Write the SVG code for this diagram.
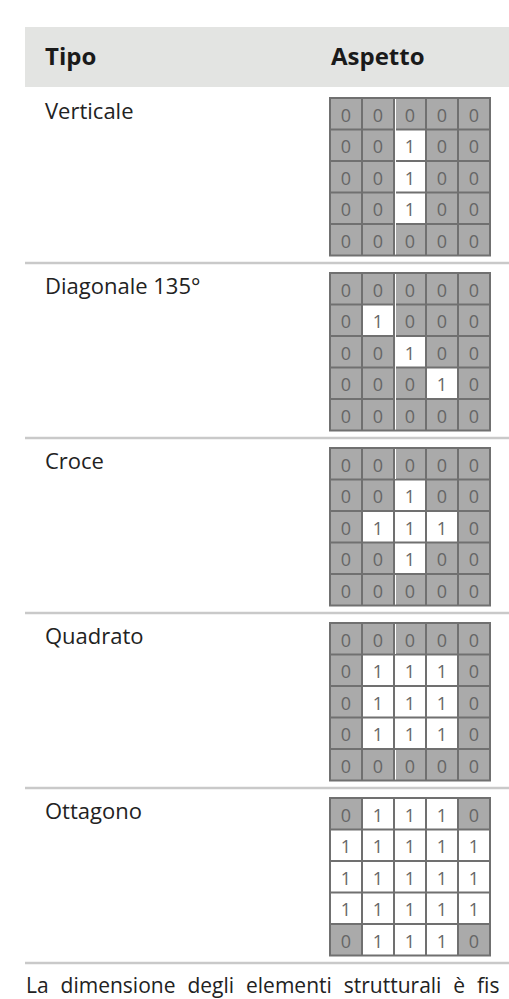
<svg xmlns="http://www.w3.org/2000/svg" xmlns:xlink="http://www.w3.org/1999/xlink" width="509" height="999" viewBox="0 0 509 999">
<style>
.hd{font-family:"Open Sans","Noto Sans",sans-serif;font-weight:bold;font-size:24px;fill:#1a1a1a}
.lb{font-family:"Open Sans","Noto Sans",sans-serif;font-size:22px;fill:#222}
.ft{font-family:"Open Sans","Noto Sans",sans-serif;font-size:21px;fill:#222;word-spacing:6.5px}
.d{font-family:"Open Sans","Noto Sans",sans-serif;font-size:18px;fill:#666;text-anchor:middle}
.bg{fill:#aaaaaa}
.w{fill:#ffffff}
.sep{stroke:#c9c9c9;stroke-width:2.5}
.gl{fill:none;stroke:#707070;stroke-width:2}
.art{stroke:#ffffff;stroke-width:1}
</style>
<defs>
<path id="lines" class="gl" d="M0,0H160V157.5H0Z M32,0V157.5 M64,0V157.5 M96,0V157.5 M128,0V157.5 M0,31.5H160 M0,63H160 M0,94.5H160 M0,126H160"/>
</defs>
<rect x="0" y="0" width="509" height="999" fill="#ffffff"/>
<g id="header">
<rect x="25" y="27" width="484" height="60" fill="#e3e4e2"/>
<text class="hd" x="45" y="65">Tipo</text>
<text class="hd" x="331" y="65">Aspetto</text>
</g>
<g id="separators">
<line class="sep" x1="25" y1="263" x2="509" y2="263"/>
<line class="sep" x1="25" y1="438" x2="509" y2="438"/>
<line class="sep" x1="25" y1="613" x2="509" y2="613"/>
<line class="sep" x1="25" y1="788" x2="509" y2="788"/>
<line class="sep" x1="25" y1="963" x2="509" y2="963"/>
</g>
<g id="row-verticale">
<text class="lb" x="45" y="119">Verticale</text>
<rect class="bg" x="330" y="98" width="160" height="157.5"/>
<rect class="w" x="394" y="129.5" width="32" height="94.5"/>
<use xlink:href="#lines" x="330" y="98"/>
<line class="art" x1="395.5" y1="99" x2="395.5" y2="254.5"/>
<text class="d" x="346" y="121.5">0</text><text class="d" x="378" y="121.5">0</text><text class="d" x="410" y="121.5">0</text><text class="d" x="442" y="121.5">0</text><text class="d" x="474" y="121.5">0</text>
<text class="d" x="346" y="153">0</text><text class="d" x="378" y="153">0</text><text class="d" x="410" y="153">1</text><text class="d" x="442" y="153">0</text><text class="d" x="474" y="153">0</text>
<text class="d" x="346" y="184.5">0</text><text class="d" x="378" y="184.5">0</text><text class="d" x="410" y="184.5">1</text><text class="d" x="442" y="184.5">0</text><text class="d" x="474" y="184.5">0</text>
<text class="d" x="346" y="216">0</text><text class="d" x="378" y="216">0</text><text class="d" x="410" y="216">1</text><text class="d" x="442" y="216">0</text><text class="d" x="474" y="216">0</text>
<text class="d" x="346" y="247.5">0</text><text class="d" x="378" y="247.5">0</text><text class="d" x="410" y="247.5">0</text><text class="d" x="442" y="247.5">0</text><text class="d" x="474" y="247.5">0</text>
</g>
<g id="row-diagonale">
<text class="lb" x="45" y="294">Diagonale 135°</text>
<rect class="bg" x="330" y="273" width="160" height="157.5"/>
<rect class="w" x="362" y="304.5" width="32" height="31.5"/>
<rect class="w" x="394" y="336" width="32" height="31.5"/>
<rect class="w" x="426" y="367.5" width="32" height="31.5"/>
<use xlink:href="#lines" x="330" y="273"/>
<line class="art" x1="395.5" y1="274" x2="395.5" y2="429.5"/>
<text class="d" x="346" y="296.5">0</text><text class="d" x="378" y="296.5">0</text><text class="d" x="410" y="296.5">0</text><text class="d" x="442" y="296.5">0</text><text class="d" x="474" y="296.5">0</text>
<text class="d" x="346" y="328">0</text><text class="d" x="378" y="328">1</text><text class="d" x="410" y="328">0</text><text class="d" x="442" y="328">0</text><text class="d" x="474" y="328">0</text>
<text class="d" x="346" y="359.5">0</text><text class="d" x="378" y="359.5">0</text><text class="d" x="410" y="359.5">1</text><text class="d" x="442" y="359.5">0</text><text class="d" x="474" y="359.5">0</text>
<text class="d" x="346" y="391">0</text><text class="d" x="378" y="391">0</text><text class="d" x="410" y="391">0</text><text class="d" x="442" y="391">1</text><text class="d" x="474" y="391">0</text>
<text class="d" x="346" y="422.5">0</text><text class="d" x="378" y="422.5">0</text><text class="d" x="410" y="422.5">0</text><text class="d" x="442" y="422.5">0</text><text class="d" x="474" y="422.5">0</text>
</g>
<g id="row-croce">
<text class="lb" x="45" y="469">Croce</text>
<rect class="bg" x="330" y="448" width="160" height="157.5"/>
<rect class="w" x="394" y="479.5" width="32" height="94.5"/>
<rect class="w" x="362" y="511" width="96" height="31.5"/>
<use xlink:href="#lines" x="330" y="448"/>
<line class="art" x1="395.5" y1="449" x2="395.5" y2="479"/>
<line class="art" x1="395.5" y1="575" x2="395.5" y2="604.5"/>
<text class="d" x="346" y="471.5">0</text><text class="d" x="378" y="471.5">0</text><text class="d" x="410" y="471.5">0</text><text class="d" x="442" y="471.5">0</text><text class="d" x="474" y="471.5">0</text>
<text class="d" x="346" y="503">0</text><text class="d" x="378" y="503">0</text><text class="d" x="410" y="503">1</text><text class="d" x="442" y="503">0</text><text class="d" x="474" y="503">0</text>
<text class="d" x="346" y="534.5">0</text><text class="d" x="378" y="534.5">1</text><text class="d" x="410" y="534.5">1</text><text class="d" x="442" y="534.5">1</text><text class="d" x="474" y="534.5">0</text>
<text class="d" x="346" y="566">0</text><text class="d" x="378" y="566">0</text><text class="d" x="410" y="566">1</text><text class="d" x="442" y="566">0</text><text class="d" x="474" y="566">0</text>
<text class="d" x="346" y="597.5">0</text><text class="d" x="378" y="597.5">0</text><text class="d" x="410" y="597.5">0</text><text class="d" x="442" y="597.5">0</text><text class="d" x="474" y="597.5">0</text>
</g>
<g id="row-quadrato">
<text class="lb" x="45" y="644">Quadrato</text>
<rect class="bg" x="330" y="623" width="160" height="157.5"/>
<rect class="w" x="362" y="654.5" width="96" height="94.5"/>
<use xlink:href="#lines" x="330" y="623"/>
<line class="art" x1="395.5" y1="624" x2="395.5" y2="654"/>
<line class="art" x1="395.5" y1="750" x2="395.5" y2="779.5"/>
<text class="d" x="346" y="646.5">0</text><text class="d" x="378" y="646.5">0</text><text class="d" x="410" y="646.5">0</text><text class="d" x="442" y="646.5">0</text><text class="d" x="474" y="646.5">0</text>
<text class="d" x="346" y="678">0</text><text class="d" x="378" y="678">1</text><text class="d" x="410" y="678">1</text><text class="d" x="442" y="678">1</text><text class="d" x="474" y="678">0</text>
<text class="d" x="346" y="709.5">0</text><text class="d" x="378" y="709.5">1</text><text class="d" x="410" y="709.5">1</text><text class="d" x="442" y="709.5">1</text><text class="d" x="474" y="709.5">0</text>
<text class="d" x="346" y="741">0</text><text class="d" x="378" y="741">1</text><text class="d" x="410" y="741">1</text><text class="d" x="442" y="741">1</text><text class="d" x="474" y="741">0</text>
<text class="d" x="346" y="772.5">0</text><text class="d" x="378" y="772.5">0</text><text class="d" x="410" y="772.5">0</text><text class="d" x="442" y="772.5">0</text><text class="d" x="474" y="772.5">0</text>
</g>
<g id="row-ottagono">
<text class="lb" x="45" y="819">Ottagono</text>
<rect class="w" x="330" y="798" width="160" height="157.5"/>
<rect class="bg" x="330" y="798" width="32" height="31.5"/>
<rect class="bg" x="458" y="798" width="32" height="31.5"/>
<rect class="bg" x="330" y="924" width="32" height="31.5"/>
<rect class="bg" x="458" y="924" width="32" height="31.5"/>
<use xlink:href="#lines" x="330" y="798"/>
<text class="d" x="346" y="821.5">0</text><text class="d" x="378" y="821.5">1</text><text class="d" x="410" y="821.5">1</text><text class="d" x="442" y="821.5">1</text><text class="d" x="474" y="821.5">0</text>
<text class="d" x="346" y="853">1</text><text class="d" x="378" y="853">1</text><text class="d" x="410" y="853">1</text><text class="d" x="442" y="853">1</text><text class="d" x="474" y="853">1</text>
<text class="d" x="346" y="884.5">1</text><text class="d" x="378" y="884.5">1</text><text class="d" x="410" y="884.5">1</text><text class="d" x="442" y="884.5">1</text><text class="d" x="474" y="884.5">1</text>
<text class="d" x="346" y="916">1</text><text class="d" x="378" y="916">1</text><text class="d" x="410" y="916">1</text><text class="d" x="442" y="916">1</text><text class="d" x="474" y="916">1</text>
<text class="d" x="346" y="947.5">0</text><text class="d" x="378" y="947.5">1</text><text class="d" x="410" y="947.5">1</text><text class="d" x="442" y="947.5">1</text><text class="d" x="474" y="947.5">0</text>
</g>
<g id="footer-text">
<text class="ft" x="26" y="993">La dimensione degli elementi strutturali è fis</text>
</g>
</svg>
